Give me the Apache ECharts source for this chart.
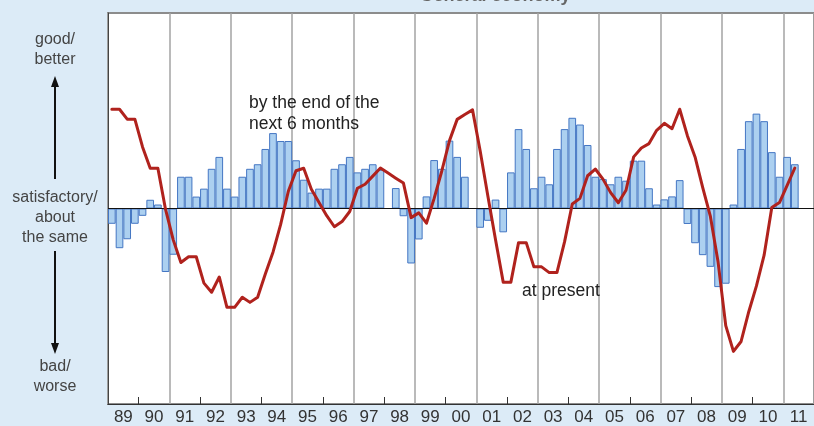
<!DOCTYPE html>
<html>
<head>
<meta charset="utf-8">
<script src="https://cdn.jsdelivr.net/npm/echarts@6/dist/echarts.min.js"></script>
<style>
html,body{margin:0;padding:0;background:#dcebf7;}
#chart{width:814px;height:426px;}
</style>
</head>
<body>
<div id="chart"></div>
<script>
// ---- data ----
const yearLabels = ['89','90','91','92','93','94','95','96','97','98','99','00','01','02','03','04','05','06','07','08','09','10','11'];
const quarterNames = ['Q1','Q2','Q3','Q4'];

// expectations: by the end of the next 6 months (bars), quarterly
const expectations = [
  -7.7, -20, -15.5, -7.7,     // 89
  -3.7, 4.4, 2, -32,          // 90
  -23.3, 16, 16, 6,           // 91
  10, 20, 26, 10,             // 92
  6, 16, 20, 22.3,            // 93
  30, 38, 34, 34,             // 94
  24.3, 14.5, 8, 10,          // 95
  10, 20, 22.3, 26,           // 96
  18.2, 20, 22.3, 19.5,       // 97
  0, 10.3, -3.9, -27.7,       // 98
  -15.6, 6.1, 24.4, 20,       // 99
  34.2, 26, 16, 0,            // 00
  -9.7, -6.2, 4.5, -12,       // 01
  18.2, 40, 30, 10.2,         // 02
  16, 12.2, 30, 40,           // 03
  45.7, 42.3, 32, 16,         // 04
  14.8, 12.2, 16, 14,         // 05
  24.1, 24.1, 10.2, 2,        // 06
  4.6, 6.1, 14.3, -7.8,       // 07
  -17.5, -23.5, -29.4, -39.6, // 08
  -37.9, 2, 30, 44,           // 09
  47.8, 44, 28.4, 16,         // 10
  26, 22.3, null, null        // 11
];

// present situation (line), quarterly
const present = [
  50, 50, 45, 45,             // 89
  31, 20.3, 20.3, -0.5,       // 90
  -15.8, -27.2, -24.3, -24.3, // 91
  -37.6, -42.2, -34.5, -49.8, // 92
  -49.8, -44.7, -47.3, -44.7, // 93
  -33, -22, -8, 8.7,          // 94
  19, 20.3, 9.7, 3,           // 95
  -3.6, -9.2, -6.6, -1.5,     // 96
  10.2, 12.2, 16.3, 20.4,     // 97
  17.9, 15.3, 12.8, -4.6,     // 98
  -2.2, -7.4, 5.1, 18.9,      // 99
  34.2, 44.9, 47.4, 49.7,     // 00
  29, 6.3, -15.8, -37.1,      // 01
  -37.1, -17.2, -17.2, -29.4, // 02
  -29.4, -32.3, -32.3, -16.7, // 03
  2.3, 5.1, 16.5, 19.9,       // 04
  14.8, 8, 2.9, 9.2,          // 05
  26, 30.5, 32.7, 39.4,       // 06
  42.9, 40.2, 50, 36.7,       // 07
  26, 10.5, -4, -27,          // 08
  -59, -72, -67, -52,         // 09
  -39, -23.5, 0.5, 3,         // 10
  11.7, 20.4, null, null      // 11
];

const quarters = [];
yearLabels.forEach(function (y) { quarterNames.forEach(function (q) { quarters.push(y + ' ' + q); }); });

// ---- chart ----
const chart = echarts.init(document.getElementById('chart'), null, {renderer: 'canvas'});
const font = '"Liberation Sans", Arial, sans-serif';

const option = {
  backgroundColor: '#dcebf7',
  animation: false,
  grid: {
    left: 108, top: 13, width: 709.6, height: 402,
    show: true, backgroundColor: '#ffffff', borderColor: '#8c8c8c', borderWidth: 2
  },
  xAxis: [
    {
      type: 'category', data: quarters, boundaryGap: true, position: 'bottom',
      axisLine: {show: true, onZero: false, lineStyle: {color: '#333', width: 1}},
      axisTick: {show: true, inside: true, length: 7, interval: function (i) { return i % 8 === 4; }, lineStyle: {color: '#333'}},
      axisLabel: {show: false},
      splitLine: {show: true, interval: function (i) { return i % 8 === 0; }, lineStyle: {color: '#a3a3a3', width: 1.5}}
    },
    {
      type: 'category', data: yearLabels, boundaryGap: true, position: 'bottom',
      axisLine: {show: false, onZero: false},
      axisTick: {show: false},
      splitLine: {show: false},
      axisLabel: {show: true, interval: 0, margin: 5, color: '#333', fontSize: 17, fontFamily: font}
    }
  ],
  yAxis: {
    type: 'value', min: -98.5, max: 98.5,
    axisLine: {show: true, lineStyle: {color: '#444', width: 1}},
    axisTick: {show: false}, axisLabel: {show: false}, splitLine: {show: false}
  },
  series: [
    {
      type: 'bar', xAxisIndex: 0, data: expectations,
      barCategoryGap: '0%', barGap: '0%',
      itemStyle: {color: '#acd0f0', borderColor: '#4476c3', borderWidth: 1},
      markLine: {
        silent: true, symbol: 'none', label: {show: false},
        lineStyle: {color: '#111', width: 1, type: 'solid'},
        data: [{yAxis: 0}]
      },
      z: 2
    },
    {
      type: 'line', xAxisIndex: 0, data: present,
      symbol: 'none', smooth: false,
      lineStyle: {color: '#b0221d', width: 3, join: 'round', cap: 'round'},
      itemStyle: {color: '#b0221d'},
      z: 5
    }
  ],
  graphic: [
    // cut-off title
    {type: 'text', x: 495, y: 5, style: {text: 'General economy', fill: '#666', font: 'bold 18px ' + font, textAlign: 'center', textVerticalAlign: 'bottom', verticalAlign: 'bottom'}},
    // left panel
    {type: 'text', x: 55, y: 50, style: {text: 'good/\nbetter', fill: '#444', font: '16px ' + font, lineHeight: 20, textAlign: 'center', textVerticalAlign: 'middle', verticalAlign: 'middle'}},
    {type: 'text', x: 55, y: 218, style: {text: 'satisfactory/\nabout\nthe same', fill: '#444', font: '16px ' + font, lineHeight: 20, textAlign: 'center', textVerticalAlign: 'middle', verticalAlign: 'middle'}},
    {type: 'text', x: 55, y: 377, style: {text: 'bad/\nworse', fill: '#444', font: '16px ' + font, lineHeight: 20, textAlign: 'center', textVerticalAlign: 'middle', verticalAlign: 'middle'}},
    {type: 'line', shape: {x1: 55, y1: 179, x2: 55, y2: 85}, style: {stroke: '#111', lineWidth: 2}},
    {type: 'polygon', shape: {points: [[55, 76], [51, 87], [59, 87]]}, style: {fill: '#111'}},
    {type: 'line', shape: {x1: 55, y1: 251, x2: 55, y2: 345}, style: {stroke: '#111', lineWidth: 2}},
    {type: 'polygon', shape: {points: [[55, 354], [51, 343], [59, 343]]}, style: {fill: '#111'}},
    // annotations
    {type: 'text', x: 249, y: 92.5, z: 10, style: {text: 'by the end of the\nnext 6 months', fill: '#222', font: '17.5px ' + font, lineHeight: 21, textAlign: 'left', textVerticalAlign: 'top', verticalAlign: 'top'}},
    {type: 'text', x: 522, y: 291, z: 10, style: {text: 'at present', fill: '#222', font: '17.5px ' + font, textAlign: 'left', textVerticalAlign: 'middle', verticalAlign: 'middle'}}
  ]
};
chart.setOption(option);
</script>
</body>
</html>
